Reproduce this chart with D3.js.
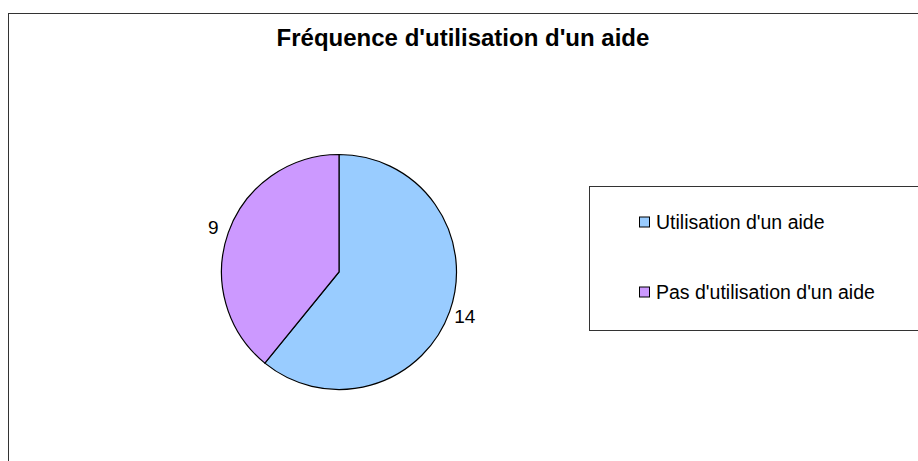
<!DOCTYPE html>
<html>
<head>
<meta charset="utf-8">
<script src="https://cdn.jsdelivr.net/npm/d3@7"></script>
<style>
  body { margin: 0; background: #fff; }
  svg { display: block; font-family: "Liberation Sans", Arial, sans-serif; }
</style>
</head>
<body>
<div id="chart"></div>
<script>
// data
const categories = ["Utilisation d'un aide", "Pas d'utilisation d'un aide"];
const values = [14, 9];
const colors = ["#99ccff", "#cc99ff"];
const title = "Fréquence d'utilisation d'un aide";

const W = 918, H = 461;
const cx = 339, cy = 272, r = 117.5;

const svg = d3.select('#chart').append('svg')
    .attr('width', W)
    .attr('height', H);

// chart border
svg.append('rect')
    .attr('x', 8.5).attr('y', 13.5)
    .attr('width', 920).attr('height', 460)
    .attr('fill', 'none')
    .attr('stroke', '#333')
    .attr('stroke-width', 1);

svg.append('text')
    .attr('x', 463).attr('y', 46)
    .attr('text-anchor', 'middle')
    .attr('font-weight', 'bold')
    .attr('font-size', 24)
    .text(title);

const data = categories.map((c, i) => ({ name: c, value: values[i], color: colors[i] }));

const pie = d3.pie().sort(null).value(d => d.value);
const arc = d3.arc().innerRadius(0).outerRadius(r);
const labelArc = d3.arc().innerRadius(r + 16).outerRadius(r + 16);

const g = svg.append('g').attr('transform', `translate(${cx},${cy})`);
const arcs = pie(data);

g.selectAll('path')
  .data(arcs)
  .join('path')
    .attr('d', arc)
    .attr('fill', d => d.data.color)
    .attr('stroke', '#000')
    .attr('stroke-width', 1.2);

g.selectAll('text')
  .data(arcs)
  .join('text')
    .attr('transform', d => `translate(${labelArc.centroid(d)})`)
    .attr('text-anchor', 'middle')
    .attr('dy', '0.35em')
    .attr('font-size', 19)
    .text(d => d.data.value);

// legend
const lg = svg.append('g');
lg.append('rect')
    .attr('x', 589.5).attr('y', 186.5)
    .attr('width', 340).attr('height', 144)
    .attr('fill', 'none')
    .attr('stroke', '#333');

const rowY = d3.scalePoint().domain(categories).range([222, 292]);

const item = lg.selectAll('g.item')
  .data(data)
  .join('g')
    .attr('class', 'item')
    .attr('transform', d => `translate(639,${rowY(d.name)})`);

item.append('rect')
    .attr('x', 0.5).attr('y', -5)
    .attr('width', 10).attr('height', 10)
    .attr('fill', d => d.color)
    .attr('stroke', '#000');

item.append('text')
    .attr('x', 17).attr('dy', '0.35em')
    .attr('font-size', 19.5)
    .text(d => d.name);
</script>
</body>
</html>
